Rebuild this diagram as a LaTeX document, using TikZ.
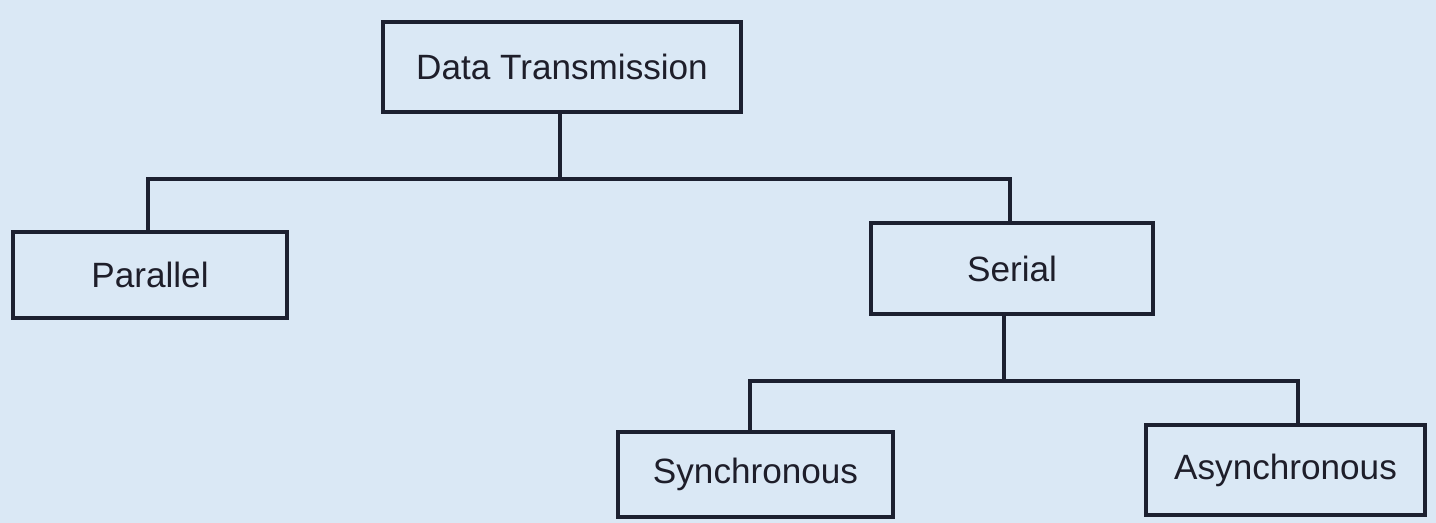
\documentclass[tikz,border=0pt]{standalone}
\usepackage{fontspec}
\setmainfont{Liberation Sans}
\definecolor{bgblue}{RGB}{218,232,245}
\definecolor{inkline}{RGB}{28,32,48}
\definecolor{inktext}{RGB}{30,30,42}
\begin{document}
\begin{tikzpicture}[x=0.02cm,y=-0.02cm,
  box/.style={draw=inkline,line width=2.1pt,rectangle,inner sep=0pt,
    text=inktext,font=\fontsize{20}{24}\selectfont},
  link/.style={draw=inkline,line width=2.1pt}]
\fill[bgblue] (0,0) rectangle (1436,523);
\useasboundingbox (0,0) rectangle (1436,523);
\node[box,minimum width=7.16cm,minimum height=1.8cm] (dt) at (562,67) {Data Transmission};
\node[box,minimum width=5.48cm,minimum height=1.72cm] (par) at (150,275) {Parallel};
\node[box,minimum width=5.64cm,minimum height=1.82cm] (ser) at (1012,268.5) {Serial};
\node[box,minimum width=5.5cm,minimum height=1.7cm] (syn) at (755.5,474.5) {Synchronous};
\node[box,minimum width=5.58cm,minimum height=1.8cm] (asy) at (1285.5,470) {Asynchronous};
\coordinate (j1) at (560,179);
\coordinate (j2) at (1004,381);
\draw[link] (dt.south -| j1) -- (j1);
\draw[link] ([xshift=-0.04cm]par.north) |- (j1) -| ([xshift=-0.04cm]ser.north);
\draw[link] (ser.south -| j2) -- (j2);
\draw[link] ([xshift=-0.11cm]syn.north) |- (j2) -| ([xshift=0.25cm]asy.north);
\end{tikzpicture}
\end{document}
